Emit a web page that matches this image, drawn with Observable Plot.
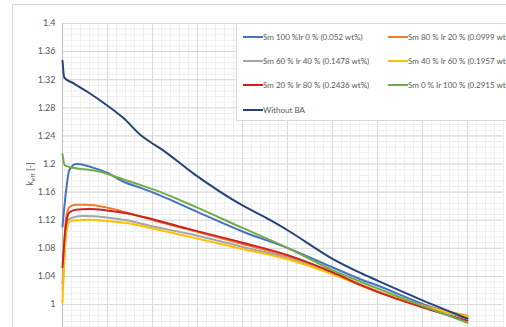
<!DOCTYPE html>
<html>
<head>
<meta charset="utf-8">
<script src="https://cdn.jsdelivr.net/npm/d3@7"></script>
<script src="https://cdn.jsdelivr.net/npm/@observablehq/plot@0.6"></script>
<style>
  body { margin: 0; background: #fff; }
  #chart { position: relative; width: 506px; height: 327px; overflow: hidden; font-family: Lato, "Open Sans", sans-serif; }
  #chart svg { position: absolute; left: 0; top: 0; }
  .frame { position: absolute; left: 12px; top: 4px; width: 700px; height: 500px;
           border-left: 1px solid #d9d9d9; border-top: 1px solid #d9d9d9; pointer-events: none; }
  .legend { position: absolute; left: 236px; top: 23px; width: 320px; height: 96px;
            background: #fff; border: 1px solid #d9d9d9; }
  .item { position: absolute; display: flex; align-items: center; font-size: 8px; color: #595959;
          white-space: nowrap; transform: translateY(-50%); }
  .item .sw { width: 20px; height: 2px; }
</style>
</head>
<body>
<div id="chart"><div class="frame"></div></div>
<script>
// Burnup (arbitrary units, one major gridline every 5) versus k_eff for each burnable-absorber mix.
const sm100ir0 = [[0,1.111],[0.4,1.162],[0.75,1.191],[1.5,1.200],[2.6,1.198],[3.1,1.196],[4.9,1.188],
  [6.9,1.174],[8.7,1.166],[10.9,1.155],[14.6,1.134],[20,1.104],[25.1,1.080],[30,1.053],[33.1,1.036],
  [35,1.027],[40,1.001],[45,0.980]];
const sm80ir20 = [[0,1.030],[0.4,1.124],[0.8,1.139],[1.5,1.142],[2.7,1.142],[4.9,1.138],[7.1,1.131],
  [10.1,1.120],[13.9,1.107],[20,1.086],[25.1,1.068],[30,1.045],[35,1.019],[40,0.999],[45,0.984]];
const sm60ir40 = [[0,1.020],[0.6,1.120],[1.2,1.124],[2.3,1.126],[4.9,1.124],[7.1,1.120],[10.1,1.111],
  [13.9,1.101],[20,1.082],[25.1,1.066],[30,1.044],[35,1.018],[40,0.998],[45,0.982]];
const sm40ir60 = [[0,1.003],[0.4,1.101],[0.8,1.118],[1.5,1.120],[3,1.1205],[4.9,1.119],[7.1,1.116],
  [10.1,1.108],[13.9,1.097],[20,1.079],[25.1,1.064],[30,1.043],[35,1.018],[40,0.998],[45,0.983]];
const sm20ir80 = [[0,1.053],[0.35,1.110],[0.75,1.131],[1.5,1.135],[3,1.136],[4.9,1.134],[7.1,1.130],
  [10.1,1.121],[13.9,1.108],[20,1.088],[25.1,1.070],[30,1.046],[33.1,1.028],[35,1.018],[40,0.996],[45,0.977]];
const sm0ir100 = [[0,1.214],[0.25,1.198],[1.5,1.194],[3.8,1.190],[6.8,1.178],[8.7,1.170],[10.9,1.160],
  [14.6,1.140],[20,1.109],[25.1,1.080],[30,1.049],[35,1.023],[40,0.998],[45,0.974]];
const withoutBA = [[0,1.347],[0.2,1.323],[1.2,1.315],[3.1,1.300],[5.0,1.283],[6.8,1.265],[8.7,1.241],
  [9.8,1.231],[10.9,1.222],[14.6,1.186],[20,1.141],[23.1,1.120],[25.1,1.105],[30,1.065],[33.1,1.045],
  [35,1.034],[40,1.006],[45,0.980]];

const seriesNames = [
  "Sm 100 %Ir 0 % (0.052 wt%)",
  "Sm 80 % Ir 20 % (0.0999 wt%)",
  "Sm 60 % Ir 40 % (0.1478 wt%)",
  "Sm 40 % Ir 60 % (0.1957 wt%)",
  "Sm 20 % Ir 80 % (0.2436 wt%)",
  "Sm 0 % Ir 100 % (0.2915 wt%)",
  "Without BA"
];
const seriesValues = [sm100ir0, sm80ir20, sm60ir40, sm40ir60, sm20ir80, sm0ir100, withoutBA];
const seriesColors = ["#4472c4", "#ed7d31", "#a5a5a5", "#ffc000", "#cc2222", "#70ad47", "#264478"];

const yTicks = [1, 1.04, 1.08, 1.12, 1.16, 1.2, 1.24, 1.28, 1.32, 1.36, 1.4];
const xMajor = d3.range(0, 50, 5);
const xMinor = d3.range(0, 50, 1);
const yMinor = d3.range(121, 176).map(i => +(i * 0.008).toFixed(3));

const rows = seriesValues.flatMap((pts, i) =>
  pts.map(([x, y]) => ({ x, y, name: seriesNames[i] })));

const plot = Plot.plot({
  width: 506,
  height: 327,
  marginLeft: 62,
  marginRight: 3,
  marginTop: 23,
  marginBottom: 0,
  style: { background: "transparent", fontFamily: "Lato, 'Open Sans', sans-serif" },
  x: { domain: [0, 49], axis: null },
  y: { domain: [0.9673, 1.4], axis: null },
  color: { domain: seriesNames, range: seriesColors },
  marks: [
    Plot.gridX(xMinor, { stroke: "#eeeeee", strokeOpacity: 1 }),
    Plot.gridY(yMinor, { stroke: "#eeeeee", strokeOpacity: 1 }),
    Plot.gridX(xMajor, { stroke: "#d9d9d9", strokeOpacity: 1 }),
    Plot.gridY(yTicks, { stroke: "#d9d9d9", strokeOpacity: 1 }),
    Plot.ruleX([0], { stroke: "#bfbfbf" }),
    Plot.axisY(yTicks, {
      tickSize: 0, tickPadding: 7, fontSize: 9, fill: "#595959", label: null,
      tickFormat: d => String(+d.toFixed(2))
    }),
    Plot.line(rows, {
      x: "x", y: "y", z: "name", stroke: "name",
      strokeWidth: 2, curve: "monotone-x"
    })
  ]
});

const chart = document.getElementById("chart");
chart.insertBefore(plot, chart.firstChild);

// Axis title with subscript
const title = d3.select(plot).append("text")
  .attr("transform", "translate(33,174) rotate(-90)")
  .attr("text-anchor", "middle")
  .attr("fill", "#595959")
  .attr("font-size", 9);
title.append("tspan").text("k");
title.append("tspan").attr("font-size", 6.5).attr("dy", 2).text("eff");
title.append("tspan").attr("dy", -2).text(" [-]");

// Legend box
const legend = d3.select(chart).append("div").attr("class", "legend");
seriesNames.forEach((name, i) => {
  const col = i % 2, row = Math.floor(i / 2);
  const item = legend.append("div").attr("class", "item")
    .style("left", (6 + col * 145) + "px")
    .style("top", (13 + row * 24.2) + "px");
  item.append("div").attr("class", "sw").style("background", seriesColors[i]);
  item.append("span").text(name);
});
</script>
</body>
</html>
